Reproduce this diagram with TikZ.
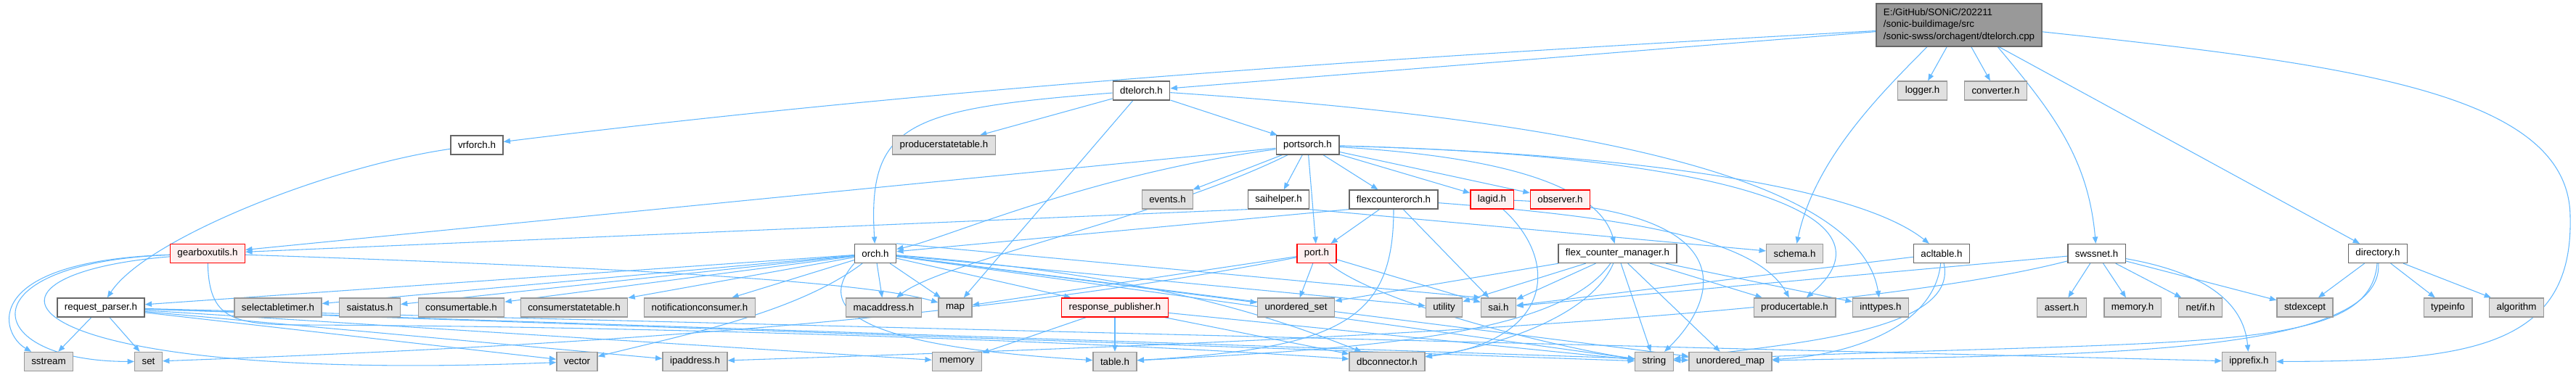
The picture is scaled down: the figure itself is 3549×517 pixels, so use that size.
\documentclass[tikz,border=0pt]{standalone}
\usepackage{fontspec}
\setmainfont{Liberation Sans}
\usetikzlibrary{arrows.meta,backgrounds}

\definecolor{edgeblue}{HTML}{63B8FF}
\definecolor{hdrborder}{HTML}{666666}
\definecolor{sysborder}{HTML}{999999}
\definecolor{sysfill}{HTML}{E0E0E0}
\definecolor{truncfill}{HTML}{FFF0F0}
\definecolor{mainfill}{HTML}{999999}

\begin{document}
\begin{tikzpicture}[>={Triangle[length=7pt,width=5.5pt]}, x=0.75pt, y=-0.75pt,
    box/.style={rectangle, font=\fontsize{10}{12.5}\selectfont, inner xsep=7.5pt, inner ysep=0pt, minimum height=19.5pt, line width=1pt},
    hdr/.style={box, draw=hdrborder, fill=white},
    sys/.style={box, draw=sysborder, fill=sysfill},
    trunc/.style={box, draw=red, fill=truncfill},
    dep/.style={->, draw=edgeblue, line width=0.8pt}]
    \useasboundingbox (0,0) rectangle (3549,517);

    % ファイル
    \node[box, draw=hdrborder, fill=mainfill, align=left, minimum height=44.25pt] (main) at (2699,34.5)
        {E:/GitHub/SONiC/202211\\/sonic-buildimage/src\\/sonic-swss/orchagent/dtelorch.cpp};

    % 1段目
    \node[hdr] (dtelorch) at (1572.5,125) {dtelorch.h};
    \node[sys] (logger) at (2648.5,125) {logger.h};
    \node[sys] (converter) at (2749.5,125) {converter.h};

    % 2段目
    \node[hdr] (vrforch) at (657,200) {vrforch.h};
    \node[sys] (producerstatetable) at (1300.5,200) {producerstatetable.h};
    \node[hdr] (portsorch) at (1801.5,200) {portsorch.h};

    % 3段目
    \node[sys] (events) at (1608.5,275) {events.h};
    \node[hdr] (saihelper) at (1761.5,275) {saihelper.h};
    \node[hdr] (flexcounterorch) at (1920,275) {flexcounterorch.h};
    \node[trunc] (lagid) at (2055.5,275) {lagid.h};
    \node[trunc] (observer) at (2149.5,275) {observer.h};

    % 4段目
    \node[trunc] (gearboxutils) at (286,349.5) {gearboxutils.h};
    \node[hdr] (orch) at (1206,349.5) {orch.h};
    \node[trunc] (port) at (1814,349.5) {port.h};
    \node[hdr] (fcmanager) at (2228.5,349.5) {flex\_counter\_manager.h};
    \node[sys] (schema) at (2472.5,349.5) {schema.h};
    \node[hdr] (acltable) at (2675,349.5) {acltable.h};
    \node[hdr] (swssnet) at (2888.5,349.5) {swssnet.h};
    \node[hdr] (directory) at (3276,349.5) {directory.h};

    % 5段目
    \node[hdr] (requestparser) at (139,424) {request\_parser.h};
    \node[sys] (selectabletimer) at (383,424) {selectabletimer.h};
    \node[sys] (saistatus) at (509.5,424) {saistatus.h};
    \node[sys] (consumertable) at (635.5,424) {consumertable.h};
    \node[sys] (consumerstatetable) at (791,424) {consumerstatetable.h};
    \node[sys] (notificationconsumer) at (964,424) {notificationconsumer.h};
    \node[sys] (macaddress) at (1217.5,424) {macaddress.h};
    \node[sys] (map) at (1316,424) {map};
    \node[trunc] (responsepublisher) at (1536,424) {response\_publisher.h};
    \node[sys] (unorderedset) at (1785.5,424) {unordered\_set};
    \node[sys] (utility) at (1989.5,424) {utility};
    \node[sys] (sai) at (2064.5,424) {sai.h};
    \node[sys] (producertable) at (2472.5,424) {producertable.h};
    \node[sys] (inttypes) at (2591,424) {inttypes.h};
    \node[sys] (assert) at (2840.5,424) {assert.h};
    \node[sys] (memoryh) at (2938,424) {memory.h};
    \node[sys] (netif) at (3031.5,424) {net/if.h};
    \node[sys] (stdexcept) at (3175.5,424) {stdexcept};
    \node[sys] (typeinfo) at (3372.5,424) {typeinfo};
    \node[sys] (algorithm) at (3467,424) {algorithm};

    % 6段目
    \node[sys] (sstream) at (67,498.5) {sstream};
    \node[sys] (set) at (204.5,498.5) {set};
    \node[sys] (vector) at (795,498.5) {vector};
    \node[sys] (ipaddress) at (957.5,498.5) {ipaddress.h};
    \node[sys] (memory) at (1318.5,498.5) {memory};
    \node[sys] (table) at (1536,498.5) {table.h};
    \node[sys] (dbconnector) at (1911,498.5) {dbconnector.h};
    \node[sys] (string) at (2279,498.5) {string};
    \node[sys] (unorderedmap) at (2384,498.5) {unordered\_map};
    \node[sys] (ipprefix) at (3098.5,498.5) {ipprefix.h};

    \begin{pgfonlayer}{background}
    % 直線の依存関係
    \foreach \a/\b in {main/dtelorch, main/logger, main/converter, main/directory,
        dtelorch/producerstatetable, dtelorch/map, dtelorch/portsorch,
        portsorch/gearboxutils, portsorch/events, portsorch/saihelper, portsorch/port,
        portsorch/flexcounterorch, portsorch/lagid, portsorch/observer,
        flexcounterorch/port, flexcounterorch/sai,
        orch/requestparser, orch/selectabletimer, orch/saistatus, orch/consumertable,
        orch/consumerstatetable, orch/notificationconsumer, orch/macaddress, orch/map,
        orch/responsepublisher, orch/unorderedset, orch/utility, orch/string, orch/unorderedmap,
        port/map, port/unorderedset, port/sai,
        fcmanager/unorderedset, fcmanager/utility, fcmanager/sai, fcmanager/string,
        fcmanager/unorderedmap, fcmanager/producertable, fcmanager/inttypes,
        acltable/sai,
        swssnet/sai, swssnet/assert, swssnet/memoryh, swssnet/netif, swssnet/stdexcept,
        directory/stdexcept, directory/typeinfo, directory/algorithm,
        requestparser/sstream, requestparser/set, requestparser/vector, requestparser/ipaddress,
        requestparser/memory, requestparser/string, requestparser/unorderedmap, requestparser/ipprefix,
        responsepublisher/memory, responsepublisher/table, responsepublisher/dbconnector,
        responsepublisher/string}
        \draw[dep] (\a) -- (\b);

    % 曲線の依存関係
    \draw[dep] ([yshift=-6pt]main.west) .. controls (1900,80) and (1300,120) .. (vrforch);
    \draw[dep] ([xshift=-33pt]main.south) .. controls (2590,130) and (2500,220) .. (schema);
    \draw[dep] ([xshift=40pt]main.south) to[out=-50,in=95] (swssnet);
    \draw[dep] ([yshift=-7pt]main.east) .. controls (3250,90) and (3541,130) .. (3541,300)
        .. controls (3545,480) and (3400,498) .. (ipprefix);
    \draw[dep] (dtelorch) .. controls (1250,150) and (1195,170) .. (orch);
    \draw[dep] (dtelorch) .. controls (2100,160) and (2560,230) .. (inttypes);
    \draw[dep] (vrforch) .. controls (450,230) and (200,330) .. (requestparser);
    \draw[dep] (portsorch) .. controls (1500,240) and (1300,330) .. (orch);
    \draw[dep] (portsorch) .. controls (1600,300) and (1300,360) .. (macaddress);
    \draw[dep] (portsorch) .. controls (2050,215) and (2200,250) .. (fcmanager);
    \draw[dep] (portsorch) .. controls (2200,210) and (2550,250) .. (acltable);
    \draw[dep] (portsorch) .. controls (2400,215) and (2620,300) .. (producertable);
    \draw[dep] (saihelper.south west) -- (gearboxutils);
    \draw[dep] (saihelper.south east) -- (schema);
    \draw[dep] (flexcounterorch.south west) -- (orch);
    \draw[dep] (flexcounterorch) .. controls (1920,440) and (1850,480) .. (table);
    \draw[dep] (flexcounterorch) .. controls (2250,300) and (2420,330) .. (producertable);
    \draw[dep] (lagid) .. controls (2420,290) and (2360,420) .. (string);
    \draw[dep] (lagid) .. controls (2150,360) and (2140,470) .. (dbconnector);
    \draw[dep] (gearboxutils) .. controls (-30,360) and (0,460) .. (sstream);
    \draw[dep] (gearboxutils) .. controls (-50,362) and (-30,498) .. (set);
    \draw[dep] (gearboxutils) .. controls (-80,380) and (0,530) .. (vector);
    \draw[dep] (gearboxutils) .. controls (900,370) and (1200,390) .. (map);
    \draw[dep] (gearboxutils) .. controls (288,440) and (320,448) .. (420,448)
        .. controls (900,450) and (1500,470) .. (dbconnector);
    \draw[dep] (orch.south west) .. controls (1110,440) and (1230,480) .. (table);
    \draw[dep] (orch) .. controls (1600,380) and (1760,440) .. (dbconnector);
    \draw[dep] (orch) .. controls (1100,430) and (950,460) .. (vector);
    \draw[dep] (orch.north east) -- (sai.north west);
    \draw[dep] (port) .. controls (1300,450) and (700,480) .. (set);
    \draw[dep] (port) .. controls (1900,420) and (2150,480) .. (string);
    \draw[dep] (fcmanager) .. controls (2190,440) and (2050,480) .. (dbconnector);
    \draw[dep] (fcmanager) .. controls (2150,460) and (1900,480) .. (table);
    \draw[dep] (acltable) .. controls (2665,450) and (2550,490) .. (unorderedmap);
    \draw[dep] (acltable) .. controls (2700,460) and (2450,475) .. (string);
    \draw[dep] (swssnet) to[out=-10,in=95] (ipprefix);
    \draw[dep] (swssnet) .. controls (2500,450) and (1500,480) .. (ipaddress);
    \draw[dep] (directory) .. controls (3265,495) and (3000,465) .. (string);
    \draw[dep] (directory) .. controls (3285,500) and (2800,488) .. (unorderedmap);
    \end{pgfonlayer}
\end{tikzpicture}
\end{document}
